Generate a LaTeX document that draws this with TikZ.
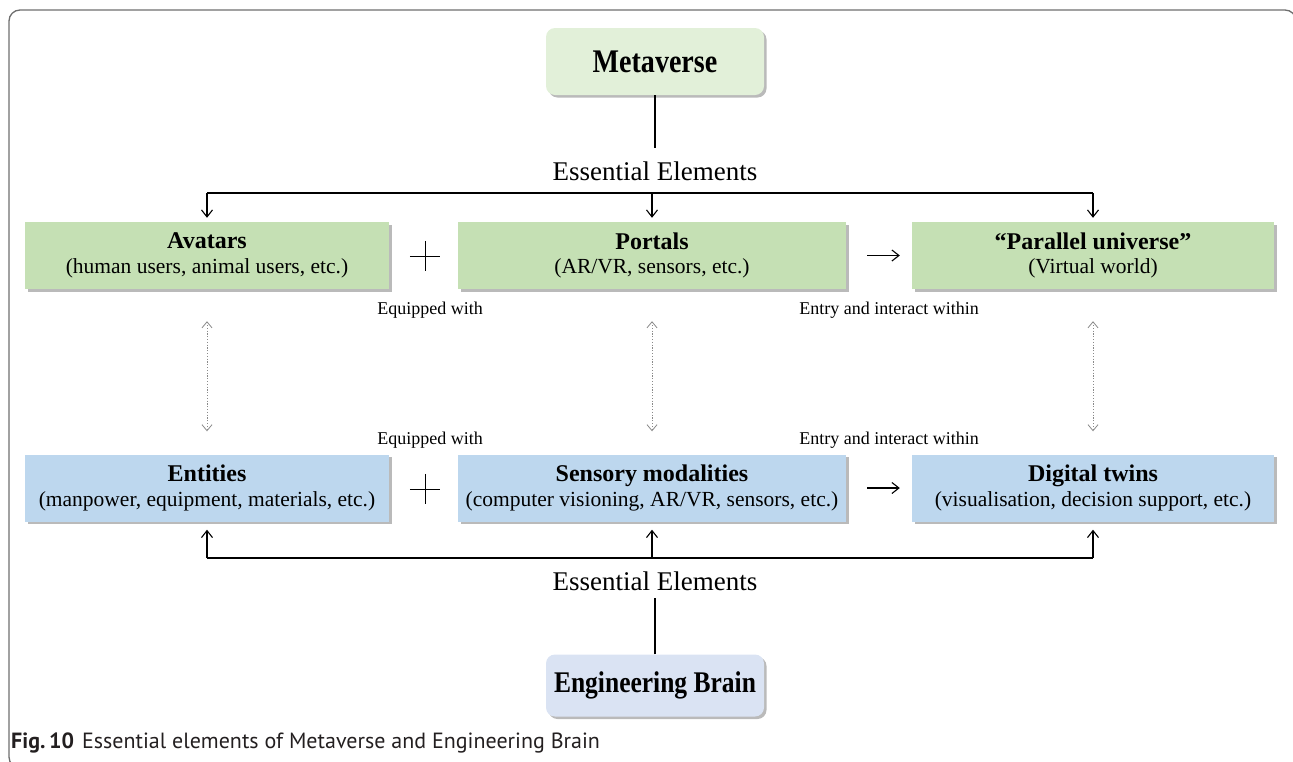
\documentclass[tikz,border=0pt]{standalone}
\usepackage{fontspec}
\setmainfont{Liberation Serif}
\newfontfamily\headfont[FakeStretch=0.85]{Liberation Serif}
\newfontfamily\capfont{PT Sans}
\usetikzlibrary{arrows.meta,shadows}
\definecolor{gtop}{HTML}{E2F0D9}
\definecolor{grow}{HTML}{C5E0B4}
\definecolor{brow}{HTML}{BDD7EE}
\definecolor{bbot}{HTML}{DAE3F3}
\definecolor{framec}{HTML}{6E6E6E}
\definecolor{capc}{HTML}{231F20}
\definecolor{dotc}{HTML}{8A8A8A}
\tikzset{
  shad/.style={drop shadow={shadow xshift=2.5pt,shadow yshift=-2.5pt,opacity=0.45,fill=black!60}},
  rowbox/.style={shad,minimum height=67pt,inner sep=0pt,align=center,font=\fontsize{21.5}{24.5}\selectfont},
  headbox/.style={shad,rounded corners=9pt,minimum width=218pt,inner sep=0pt},
  lbl/.style={inner sep=0pt,font=\fontsize{27}{30}\selectfont},
  small/.style={inner sep=0pt,font=\fontsize{18}{21}\selectfont},
  arr/.style={line width=1.1pt,-{Straight Barb[length=7pt,width=11pt,line width=1.1pt]}},
  darr/.style={dotc,line width=0.9pt,dash pattern=on 1.2pt off 1.6pt,{Straight Barb[length=6pt,width=10pt,line width=0.8pt]}-{Straight Barb[length=6pt,width=10pt,line width=0.8pt]}},
  ln/.style={line width=1.1pt},
}
\newcommand{\ttl}[2]{{\fontsize{24}{24.5}\selectfont\bfseries #1}\\#2}
\begin{document}
\begin{tikzpicture}[x=1pt,y=-1pt]
\useasboundingbox (0,0) rectangle (1293,761);
% frame
\draw[framec,line width=1.3pt,rounded corners=11pt] (40,768) -- (9,768) -- (9,10) -- (1296,10) -- (1296,60);
% head nodes
\node[headbox,fill=gtop,minimum height=67pt,font=\headfont\fontsize{33}{36}\selectfont\bfseries] (meta) at (655,61.5) {Metaverse};
\node[headbox,fill=bbot,minimum height=62pt,font=\headfont\fontsize{30}{34}\selectfont\bfseries] (eb) at (655,685.5) {Engineering Brain};
% rows
\node[rowbox,fill=grow,minimum width=364pt] (av) at (207,255.5) {\ttl{Avatars}{(human users, animal users, etc.)}};
\node[rowbox,fill=grow,minimum width=388pt] (po) at (652,255.5) {\ttl{Portals}{(AR/VR, sensors, etc.)}};
\node[rowbox,fill=grow,minimum width=362pt] (pu) at (1093,255.5) {\ttl{``Parallel universe''}{(Virtual world)}};
\node[rowbox,fill=brow,minimum width=364pt] (en) at (207,488) {\ttl{Entities}{(manpower, equipment, materials, etc.)}};
\node[rowbox,fill=brow,minimum width=388pt] (sm) at (652,488) {\ttl{Sensory modalities}{(computer visioning, AR/VR, sensors, etc.)}};
\node[rowbox,fill=brow,minimum width=362pt] (dt) at (1093,488) {\ttl{Digital twins}{(visualisation, decision support, etc.)}};
% labels
\node[lbl] (ee1) at (655,171) {Essential Elements};
\node[lbl] (ee2) at (655,581) {Essential Elements};
\node[small] (eq1) at (430,310) {Equipped with};
\node[small] (eq2) at (430,440) {Equipped with};
\node[small] (ei1) at (889,310) {Entry and interact within};
\node[small] (ei2) at (889,440) {Entry and interact within};
% plus signs
\node[inner sep=0pt,minimum size=30pt] (plus1) at (425,256) {};
\node[inner sep=0pt,minimum size=30pt] (plus2) at (425,489) {};
\foreach \p in {plus1,plus2}{
  \draw[line width=0.9pt] (\p.west) -- (\p.east);
  \draw[line width=0.9pt] (\p.north) -- (\p.south);
}
% horizontal arrows between boxes
\draw[arr] ([xshift=21pt]po.east) -- ([xshift=-12pt]pu.west);
\draw[arr] ([xshift=21pt]sm.east) -- ([xshift=-12pt]dt.west);
% top tree
\coordinate (hbar) at (652,193);
\draw[ln] (meta.south) -- (meta.south |- 0,148);
\draw[ln] (hbar -| av.north) -- (hbar -| pu.north);
\draw[arr] (hbar -| av.north) -- ([yshift=4pt]av.north);
\draw[arr] (hbar -| po.north) -- ([yshift=4pt]po.north);
\draw[arr] (hbar -| pu.north) -- ([yshift=4pt]pu.north);
% bottom tree
\coordinate (bbar) at (652,558);
\draw[ln] (eb.north) -- (eb.north |- 0,598);
\draw[ln] (bbar -| en.south) -- (bbar -| dt.south);
\draw[arr] (bbar -| en.south) -- ([yshift=-8pt]en.south);
\draw[arr] (bbar -| sm.south) -- ([yshift=-8pt]sm.south);
\draw[arr] (bbar -| dt.south) -- ([yshift=-8pt]dt.south);
% dotted correspondences
\draw[darr] ([yshift=-32pt]av.south) -- ([yshift=23pt]en.north);
\draw[darr] ([yshift=-32pt]po.south) -- ([yshift=23pt]sm.north);
\draw[darr] ([yshift=-32pt]pu.south) -- ([yshift=23pt]dt.north);
% caption
\node[anchor=base west,inner sep=0pt,text=capc] (cap) at (11,748) {\capfont\fontsize{22}{24}\selectfont\textbf{Fig.\,10}\hspace{8pt}Essential elements of Metaverse and Engineering Brain};
\end{tikzpicture}
\end{document}
